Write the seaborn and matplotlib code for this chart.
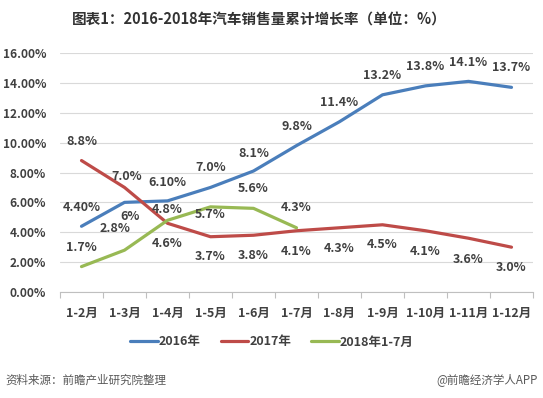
import matplotlib
matplotlib.use("Agg")
import matplotlib.pyplot as plt
import seaborn as sns
import pandas as pd
import numpy as np
from matplotlib.ticker import FixedLocator, FuncFormatter

# ---- data ----
categories = ["1-2月", "1-3月", "1-4月", "1-5月", "1-6月", "1-7月",
              "1-8月", "1-9月", "1-10月", "1-11月", "1-12月"]
s2016 = [4.4, 6.0, 6.1, 7.0, 8.1, 9.8, 11.4, 13.2, 13.8, 14.1, 13.7]
s2017 = [8.8, 7.0, 4.6, 3.7, 3.8, 4.1, 4.3, 4.5, 4.1, 3.6, 3.0]
s2018 = [1.7, 2.8, 4.8, 5.7, 5.6, 4.3]
labels2016 = ["4.40%", "6%", "6.10%", "7.0%", "8.1%", "9.8%", "11.4%", "13.2%", "13.8%", "14.1%", "13.7%"]
labels2017 = ["8.8%", "7.0%", "4.6%", "3.7%", "3.8%", "4.1%", "4.3%", "4.5%", "4.1%", "3.6%", "3.0%"]
labels2018 = ["1.7%", "2.8%", "4.8%", "5.7%", "5.6%", "4.3%"]
series_names = ["2016年", "2017年", "2018年1-7月"]
yticks = [0, 2, 4, 6, 8, 10, 12, 14, 16]

# label offsets in pixels (negative dy = above)
off2016 = [-19, 14, -18, -20, -18, -19, -19, -19, -19, -19, -20]
off2017 = [-19, -11, 20, 20, 20, 21, 21, 20, 21, 21, 20]
off2018 = [-19, -22, -11, 8, -20, -20]
dx2016 = [0, 6, 0, 0, 0, 0, 0, 0, 0, 0, 0]
dx2017 = [0, 2, 0, 0, 0, 0, 0, 0, 0, 0, 0]
dx2018 = [0, -9, 0, 0, 0, 0]

colors = ["#4A7EBB", "#BE4B48", "#98B954"]

rows = []
for name, vals in zip(series_names, [s2016, s2017, s2018]):
    for c, v in zip(categories, vals):
        rows.append({"period": c, "value": v, "series": name})
df = pd.DataFrame(rows)
df["pos"] = df["period"].map({c: i for i, c in enumerate(categories)})

sns.set_theme(style="white")
plt.rcParams["font.family"] = ["Noto Sans CJK SC", "DejaVu Sans"]
plt.rcParams["font.weight"] = "bold"

fig = plt.figure(figsize=(5.43, 3.98), dpi=100)
ax = fig.add_axes([60 / 543, 1 - 292 / 398, 473 / 543, 239 / 398])

sns.lineplot(data=df, x="pos", y="value", hue="series", palette=colors,
             hue_order=series_names, linewidth=2.3, ax=ax, legend=True, sort=False)

txtc = "#404040"
px2pt = 0.72
for vals, labs, offs, dxs in [(s2016, labels2016, off2016, dx2016),
                              (s2017, labels2017, off2017, dx2017),
                              (s2018, labels2018, off2018, dx2018)]:
    for i, (v, l, o, d) in enumerate(zip(vals, labs, offs, dxs)):
        ax.annotate(l, (i, v), xytext=(d * px2pt, -o * px2pt), textcoords="offset points",
                    ha="center", va="center", fontsize=9, fontweight="bold", color=txtc)

ax.set_xlim(-0.5, len(categories) - 0.5)
ax.set_ylim(0, 16)
ax.set_xticks(range(len(categories)))
ax.set_xticklabels(categories)
ax.xaxis.set_minor_locator(FixedLocator(np.arange(-0.5, len(categories), 1.0)))
ax.tick_params(axis="x", which="major", length=0, pad=11, labelsize=9, labelcolor=txtc)
ax.tick_params(axis="x", which="minor", length=4, width=0.8, color="#bfbfbf", direction="out", bottom=True)
ax.set_yticks(yticks)
ax.yaxis.set_major_formatter(FuncFormatter(lambda v, p: f"{v:.2f}%"))
ax.tick_params(axis="y", length=0, pad=10, labelsize=8.6, labelcolor=txtc)
for t in ax.get_xticklabels() + ax.get_yticklabels():
    t.set_fontweight("bold")
ax.grid(axis="y", color="#d9d9d9", linewidth=0.8)
ax.set_axisbelow(True)
for s in ["top", "right", "left"]:
    ax.spines[s].set_visible(False)
ax.spines["bottom"].set_color("#bfbfbf")
ax.spines["bottom"].set_linewidth(0.8)
ax.set_xlabel("")
ax.set_ylabel("")

handles, labs = ax.get_legend_handles_labels()
ax.get_legend().remove()
leg = fig.legend(handles, labs, loc="center", bbox_to_anchor=(272 / 543, 1 - 342 / 398),
                 ncol=3, frameon=False, fontsize=9, handlelength=2.2, handletextpad=0.1,
                 columnspacing=1.6)
for t in leg.get_texts():
    t.set_fontweight("bold")
    t.set_color(txtc)

fig.text(259 / 543, 1 - 20 / 398, "图表1：2016-2018年汽车销售量累计增长率（单位：%）",
         ha="center", va="center", fontsize=10.5, fontweight="bold", color="#333333")
fig.text(5 / 543, 1 - 380 / 398, "资料来源：前瞻产业研究院整理", ha="left", va="center",
         fontsize=8.3, fontweight="normal", color="#595959", style="italic")
fig.text(538 / 543, 1 - 380 / 398, "@前瞻经济学人APP", ha="right", va="center",
         fontsize=8.3, fontweight="normal", color="#595959")

fig.savefig("out.png", dpi=100)
